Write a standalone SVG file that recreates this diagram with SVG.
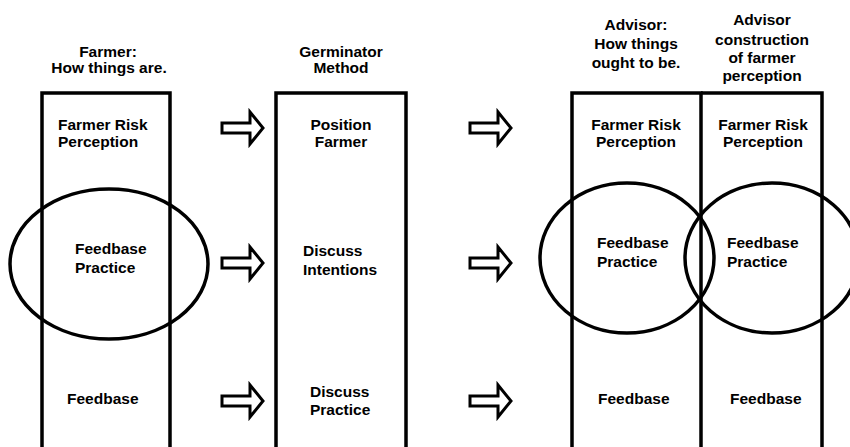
<svg xmlns="http://www.w3.org/2000/svg" xmlns:xlink="http://www.w3.org/1999/xlink" width="850" height="447" viewBox="0 0 850 447">
<style>
text{font-family:"Liberation Sans",Arial,sans-serif;font-weight:bold;font-size:15.5px;fill:#000}
.c{text-anchor:middle}
.box{fill:none;stroke:#000;stroke-width:3.5}
.ell{fill:none;stroke:#000;stroke-width:3.5}
.arr{fill:#fff;stroke:#000;stroke-width:3;stroke-linejoin:miter}
</style>
<defs>
<path id="arrow" class="arr" d="M0,-5 H28 V-16 L41,0 L28,16 V5 H0 Z"/>
</defs>
<rect width="850" height="447" fill="#fff"/>
<g id="col-farmer">
<path class="box" d="M42,460 V93 H170 V460"/>
<text class="c" x="108" y="56.5">Farmer:</text>
<text class="c" x="109" y="73">How things are.</text>
<text x="58" y="129.5">Farmer Risk</text>
<text x="58" y="146.5">Perception</text>
<text x="75" y="254">Feedbase</text>
<text x="75" y="273">Practice</text>
<text x="67" y="404">Feedbase</text>
</g>
<g id="ellipse-farmer">
<ellipse class="ell" cx="109" cy="264" rx="99" ry="75"/>
</g>
<g id="col-germinator">
<path class="box" d="M276,460 V93 H406 V460"/>
<text class="c" x="341" y="56.5">Germinator</text>
<text class="c" x="341" y="73">Method</text>
<text class="c" x="341" y="129.5">Position</text>
<text class="c" x="341" y="146.5">Farmer</text>
<text x="303" y="256">Discuss</text>
<text x="303" y="275">Intentions</text>
<text x="310" y="397">Discuss</text>
<text x="310" y="415">Practice</text>
</g>
<g id="col-advisor">
<path class="box" d="M572,460 V93 H701 V460"/>
<text class="c" x="636" y="30">Advisor:</text>
<text class="c" x="636" y="49">How things</text>
<text class="c" x="636" y="68">ought to be.</text>
<text class="c" x="636" y="129.5">Farmer Risk</text>
<text class="c" x="636" y="146.5">Perception</text>
<text x="597" y="248">Feedbase</text>
<text x="597" y="267">Practice</text>
<text x="598" y="404">Feedbase</text>
</g>
<g id="col-construction">
<path class="box" d="M701,93 H822 V460"/>
<text class="c" x="762" y="25">Advisor</text>
<text class="c" x="762" y="44.5">construction</text>
<text class="c" x="762" y="63">of farmer</text>
<text class="c" x="762" y="81">perception</text>
<text class="c" x="763" y="129.5">Farmer Risk</text>
<text class="c" x="763" y="146.5">Perception</text>
<text x="727" y="248">Feedbase</text>
<text x="727" y="267">Practice</text>
<text x="730" y="404">Feedbase</text>
</g>
<g id="ellipse-advisor">
<ellipse class="ell" cx="627" cy="258" rx="87" ry="75"/>
</g>
<g id="ellipse-construction">
<ellipse class="ell" cx="772" cy="258" rx="87" ry="75"/>
</g>
<g id="connectors">
<use xlink:href="#arrow" x="222" y="128"/>
<use xlink:href="#arrow" x="222" y="263"/>
<use xlink:href="#arrow" x="222" y="401"/>
<use xlink:href="#arrow" x="470" y="128"/>
<use xlink:href="#arrow" x="470" y="263"/>
<use xlink:href="#arrow" x="470" y="401"/>
</g>
</svg>
